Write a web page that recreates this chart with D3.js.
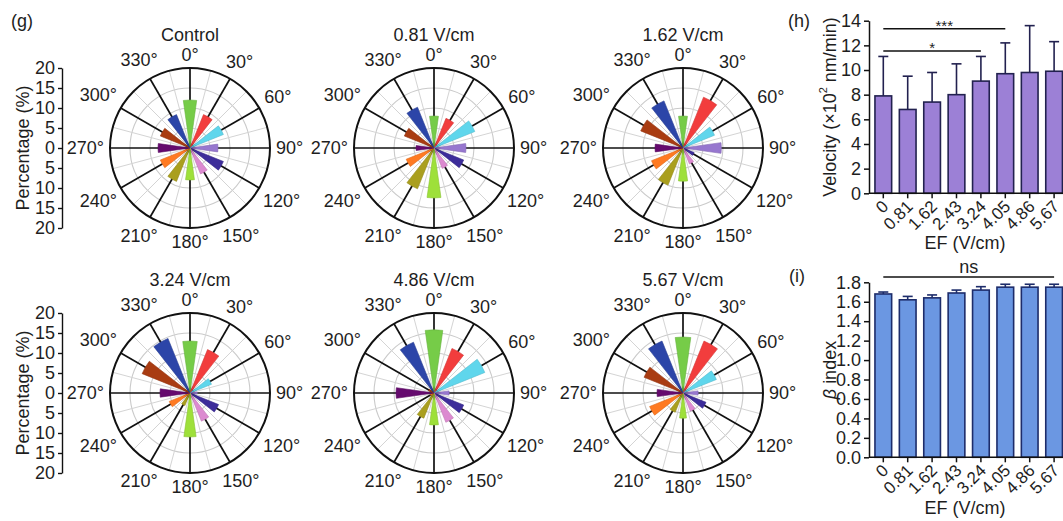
<!DOCTYPE html>
<html>
<head>
<meta charset="utf-8">
<script src="https://cdn.jsdelivr.net/npm/d3@7"></script>
<style>
  body { margin: 0; background: #fff; }
  svg { display: block; font-family: "Liberation Sans", Arial, sans-serif; }
</style>
</head>
<body>
<div id="chart"></div>
<script>
// ---- data ----
var angles = [0, 30, 60, 90, 120, 150, 180, 210, 240, 270, 300, 330];
var angleColors = ["#76cc48", "#f23d3d", "#5fd6ec", "#9777cf", "#3d2d9a", "#dc8ad0",
                   "#9ee03a", "#aa9f1e", "#ff7a22", "#650a6e", "#a93c12", "#2c45a8"];
var polarTitles = ["Control", "0.81 V/cm", "1.62 V/cm", "3.24 V/cm", "4.86 V/cm", "5.67 V/cm"];

var pctControl = [12, 9, 9, 7, 9, 7, 8, 9, 8, 8, 8, 9];
var pct081 = [8, 8, 11, 8, 8, 5.5, 12.5, 11, 7.5, 4.5, 8, 11];
var pct162 = [8, 13.7, 8.5, 9.6, 3, 4.3, 8.3, 10, 8.5, 7, 11.4, 12.7];
var pct324 = [13, 11.7, 5.8, 1.8, 7.7, 7.6, 11, 3.4, 5.6, 7.5, 12.9, 14.7];
var pct486 = [15.8, 12, 13.7, 3.8, 8, 7.9, 8, 6.8, 1, 9.5, 1.5, 13.7];
var pct567 = [14, 14, 9, 3.8, 6.2, 4.9, 6.3, 5.2, 9, 6.5, 10.5, 14];
var polarSets = [pctControl, pct081, pct162, pct324, pct486, pct567];
var pctTicks = [-20, -15, -10, -5, 0, 5, 10, 15, 20];

var efLabels = ["0", "0.81", "1.62", "2.43", "3.24", "4.05", "4.86", "5.67"];
var velocityMean = [7.9, 6.8, 7.4, 8.0, 9.1, 9.7, 9.8, 9.9];
var velocityUpper = [11.1, 9.5, 9.8, 10.5, 11.1, 12.2, 13.6, 12.3];
var velocityTicks = [0, 2, 4, 6, 8, 10, 12, 14];
var betaMean = [1.68, 1.62, 1.64, 1.69, 1.72, 1.75, 1.75, 1.75];
var betaUpper = [1.70, 1.655, 1.67, 1.72, 1.755, 1.78, 1.78, 1.78];
var betaTicks = [0, 0.2, 0.4, 0.6, 0.8, 1.0, 1.2, 1.4, 1.6, 1.8];

var W = 1063, H = 521;
var FS = 18, INK = "#1e1e1e";
var svg = d3.select("#chart").append("svg")
    .attr("width", W).attr("height", H);
svg.append("rect").attr("width", W).attr("height", H).attr("fill", "#fff");

// ---- polar (rose) plots ----
var R = 80;
var centersX = [190, 434, 683];
var centersY = [148, 393];
var r = d3.scaleLinear().domain([0, 20]).range([0, R]);
var rad = function(a) { return a * Math.PI / 180; };
var halfWidth = 8;

var arc = d3.arc()
    .innerRadius(0)
    .outerRadius(function(d) { return r(d.v); })
    .startAngle(function(d) { return rad(d.a - halfWidth); })
    .endAngle(function(d) { return rad(d.a + halfWidth); });

polarSets.forEach(function(vals, k) {
    var cx = centersX[k % 3], cy = centersY[Math.floor(k / 3)];
    var g = svg.append("g").attr("transform", "translate(" + cx + "," + cy + ")");

    // light grid
    g.selectAll(".gc").data([5, 10, 15]).enter().append("circle")
        .attr("r", function(d) { return r(d); })
        .attr("fill", "none").attr("stroke", "#cacaca").attr("stroke-width", 1.1);
    var minor = d3.range(15, 360, 30);
    g.selectAll(".gs").data(minor).enter().append("line")
        .attr("x1", 0).attr("y1", 0)
        .attr("x2", function(d) { return R * Math.sin(rad(d)); })
        .attr("y2", function(d) { return -R * Math.cos(rad(d)); })
        .attr("stroke", "#d4d4d4").attr("stroke-width", 1);
    // main spokes
    g.selectAll(".sp").data(angles).enter().append("line")
        .attr("x1", 0).attr("y1", 0)
        .attr("x2", function(d) { return R * Math.sin(rad(d)); })
        .attr("y2", function(d) { return -R * Math.cos(rad(d)); })
        .attr("stroke", "#111").attr("stroke-width", 1.7);
    g.append("circle").attr("r", R)
        .attr("fill", "none").attr("stroke", "#111").attr("stroke-width", 2);

    // wedges
    var data = angles.map(function(a, i) { return { a: a, v: vals[i], c: angleColors[i] }; });
    g.selectAll(".w").data(data).enter().append("path")
        .attr("d", arc)
        .attr("fill", function(d) { return d.c; })
        .attr("stroke", function(d) { return d3.color(d.c).darker(0.4); })
        .attr("stroke-width", 0.6);

    // angle labels
    g.selectAll(".al").data(angles).enter().append("text")
        .attr("font-size", FS).attr("fill", INK)
        .attr("text-anchor", "middle").attr("dominant-baseline", "central")
        .text(function(d) { return d + "°"; })
        .each(function(d) {
            var w = this.getComputedTextLength();
            var s = Math.sin(rad(d)), c = Math.cos(rad(d));
            var dist = R + 6 + Math.abs(s) * w / 2 + Math.abs(c) * 7.5;
            d3.select(this).attr("x", dist * s).attr("y", -dist * c);
        });

    svg.append("text")
        .attr("x", cx).attr("y", cy - 107)
        .attr("text-anchor", "middle").attr("font-size", FS).attr("fill", INK)
        .text(polarTitles[k]);
});

// percentage axes on the left of each row
centersY.forEach(function(cy) {
    var py = d3.scaleLinear().domain([-20, 20]).range([cy + R, cy - R]);
    var ax = svg.append("g").attr("transform", "translate(62,0)")
        .call(d3.axisLeft(py).tickValues(pctTicks).tickSize(4).tickSizeOuter(0)
            .tickFormat(function(d) { return Math.abs(d); }));
    ax.select(".domain").attr("stroke", "#111").attr("stroke-width", 1.4);
    ax.selectAll(".tick line").attr("stroke", "#111").attr("stroke-width", 1.4);
    ax.selectAll("text").attr("font-size", FS).attr("fill", INK)
        .attr("font-family", "Liberation Sans, Arial, sans-serif");
    svg.append("text")
        .attr("transform", "translate(23," + cy + ") rotate(-90)")
        .attr("text-anchor", "middle").attr("dominant-baseline", "central")
        .attr("font-size", FS).attr("fill", INK)
        .text("Percentage (%)");
});

svg.append("text").attr("x", 11).attr("y", 27).attr("font-size", FS).attr("fill", INK).text("(g)");
svg.append("text").attr("x", 788).attr("y", 27).attr("font-size", FS).attr("fill", INK).text("(h)");
svg.append("text").attr("x", 789).attr("y", 282).attr("font-size", FS).attr("fill", INK).text("(i)");

// ---- bar charts ----
var axisX0 = 869;
var x = d3.scaleBand().domain(efLabels)
    .range([axisX0, axisX0 + 199.4])
    .paddingInner(0.316).paddingOuter(0.244);
var bw = x.bandwidth();
var cxBar = function(d) { return x(d) + bw / 2; };

function barChart(opts) {
    var y = d3.scaleLinear().domain(opts.domain).range([opts.y0, opts.y1]);
    var g = svg.append("g");

    // error bars (upper only)
    efLabels.forEach(function(l, i) {
        g.append("line")
            .attr("x1", cxBar(l)).attr("x2", cxBar(l))
            .attr("y1", y(opts.mean[i])).attr("y2", y(opts.upper[i]))
            .attr("stroke", opts.stroke).attr("stroke-width", 1.6);
        g.append("line")
            .attr("x1", cxBar(l) - 5).attr("x2", cxBar(l) + 5)
            .attr("y1", y(opts.upper[i])).attr("y2", y(opts.upper[i]))
            .attr("stroke", opts.stroke).attr("stroke-width", 1.6);
    });

    g.selectAll(".bar").data(efLabels).enter().append("rect")
        .attr("x", function(d) { return x(d); })
        .attr("width", bw)
        .attr("y", function(d, i) { return y(opts.mean[i]); })
        .attr("height", function(d, i) { return y(0) - y(opts.mean[i]); })
        .attr("fill", opts.fill).attr("stroke", opts.stroke).attr("stroke-width", 1.6);

    var ay = g.append("g").attr("transform", "translate(" + axisX0 + ",0)")
        .call(d3.axisLeft(y).tickValues(opts.ticks).tickSize(5).tickSizeOuter(0)
            .tickFormat(opts.fmt));
    var axb = g.append("g").attr("transform", "translate(0," + y(0) + ")")
        .call(d3.axisBottom(x).tickSize(5).tickSizeOuter(0));
    axb.select(".domain").attr("d", "M" + axisX0 + ",0H" + (axisX0 + 205));
    [ay, axb].forEach(function(a) {
        a.select(".domain").attr("stroke", "#111").attr("stroke-width", 1.5);
        a.selectAll(".tick line").attr("stroke", "#111").attr("stroke-width", 1.5);
        a.selectAll("text").attr("font-size", FS).attr("fill", INK)
            .attr("font-family", "Liberation Sans, Arial, sans-serif");
    });
    axb.selectAll("text")
        .attr("font-size", 17)
        .attr("x", 0).attr("y", 0).attr("dy", "0.35em")
        .attr("text-anchor", "end")
        .attr("transform", "translate(2,10) rotate(-45)");

    // significance lines
    opts.sig.forEach(function(s) {
        var yy = y(s.level);
        g.append("line")
            .attr("x1", cxBar(efLabels[s.from])).attr("x2", cxBar(efLabels[s.to]))
            .attr("y1", yy).attr("y2", yy)
            .attr("stroke", "#111").attr("stroke-width", 1.5);
        g.append("text")
            .attr("x", (cxBar(efLabels[s.from]) + cxBar(efLabels[s.to])) / 2)
            .attr("y", yy + s.dy)
            .attr("text-anchor", "middle").attr("font-size", s.size).attr("fill", INK)
            .text(s.label);
    });

    svg.append("text")
        .attr("x", 965).attr("y", opts.xTitleY)
        .attr("text-anchor", "middle").attr("font-size", FS).attr("fill", INK)
        .text("EF (V/cm)");
    return y;
}

barChart({
    domain: [0, 14], y0: 193.3, y1: 20.7,
    mean: velocityMean, upper: velocityUpper, ticks: velocityTicks,
    fmt: d3.format("d"), fill: "#9c80d6", stroke: "#22214f",
    sig: [{ from: 0, to: 5, level: 13.35, label: "***", size: 15, dy: 2 },
          { from: 0, to: 4, level: 11.55, label: "*", size: 15, dy: 2 }],
    xTitleY: 249
});
svg.append("text")
    .attr("transform", "translate(830,107) rotate(-90)")
    .attr("text-anchor", "middle").attr("dominant-baseline", "central")
    .attr("font-size", FS).attr("fill", INK)
    .html("Velocity (×10<tspan font-size='11' dy='-7'>2</tspan><tspan dy='7'> nm/min)</tspan>");

barChart({
    domain: [0, 1.8], y0: 457.3, y1: 282.3,
    mean: betaMean, upper: betaUpper, ticks: betaTicks,
    fmt: d3.format(".1f"), fill: "#6b97e2", stroke: "#1d2c6a",
    sig: [{ from: 0, to: 7, level: 1.855, label: "ns", size: 18, dy: -4 }],
    xTitleY: 514
});
svg.append("text")
    .attr("transform", "translate(830,370) rotate(-90)")
    .attr("text-anchor", "middle").attr("dominant-baseline", "central")
    .attr("font-size", FS).attr("fill", INK)
    .html("<tspan font-style='italic'>β</tspan> index");
</script>
</body>
</html>
